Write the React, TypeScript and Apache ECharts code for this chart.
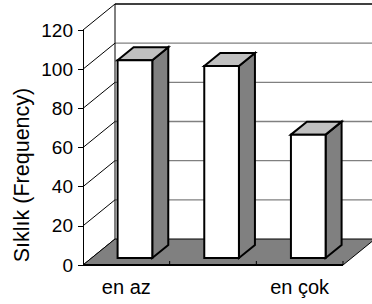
import React, { useEffect, useRef } from "react";
import * as echarts from "echarts";

const CATEGORIES = ["en az", "", "en çok"];
const VALUES = [101, 98, 63];
const Y_MIN = 0;
const Y_MAX = 120;
const Y_STEP = 20;
const Y_TITLE = "Sıklık (Frequency)";

const FONT = "'Liberation Sans', Arial, sans-serif";
const DX = 32; // depth of the floor / walls
const DY = -26;
const BX = 8.6; // bar front offset inside the depth
const BY = -7;
const BDX = 16; // bar depth
const BDY = -13;

export default function App() {
  const ref = useRef<HTMLDivElement>(null);

  useEffect(() => {
    if (!ref.current) return;
    const chart = echarts.init(ref.current, null, { renderer: "svg" });

    const ticks: number[] = [];
    for (let v = Y_MIN; v <= Y_MAX; v += Y_STEP) ticks.push(v);

    const frameRender = (params: any, api: any) => {
      const cs = params.coordSys;
      const x0 = cs.x;
      const x1 = cs.x + cs.width;
      const y0 = api.coord([0, Y_MIN])[1];
      const yTop = api.coord([0, Y_MAX])[1];
      const band = api.size([1, 0])[0];
      const children: any[] = [];
      children.push({
        type: "rect",
        shape: { x: x0 + DX, y: yTop + DY, width: x1 - x0, height: y0 - yTop },
        style: { fill: "#ffffff", stroke: null },
      });
      ticks.forEach((v) => {
        if (v === Y_MIN || v === Y_MAX) return;
        const y = api.coord([0, v])[1];
        children.push({
          type: "line",
          shape: { x1: x0 + DX, y1: y + DY, x2: x1 + DX, y2: y + DY },
          style: { stroke: "#808080", lineWidth: 1.3 },
        });
      });
      children.push({
        type: "line",
        shape: { x1: x0 + DX, y1: yTop + DY, x2: x1 + DX, y2: yTop + DY },
        style: { stroke: "#000000", lineWidth: 1.5 },
      });
      children.push({
        type: "line",
        shape: { x1: x0 + DX, y1: yTop + DY, x2: x0 + DX, y2: y0 + DY },
        style: { stroke: "#000000", lineWidth: 1 },
      });
      ticks.forEach((v) => {
        const y = api.coord([0, v])[1];
        children.push({
          type: "line",
          shape: { x1: x0, y1: y, x2: x0 + DX, y2: y + DY },
          style: { stroke: "#000000", lineWidth: 1 },
        });
      });
      children.push({
        type: "polygon",
        shape: {
          points: [
            [x0, y0],
            [x1, y0],
            [x1 + DX, y0 + DY],
            [x0 + DX, y0 + DY],
          ],
        },
        style: { fill: "#808080", stroke: "#000000", lineWidth: 1 },
      });
      children.push({
        type: "line",
        shape: { x1: x0, y1: y0, x2: x1, y2: y0 },
        style: { stroke: "#000000", lineWidth: 2 },
      });
      for (let i = 1; i <= CATEGORIES.length; i++) {
        const x = api.coord([i - 1, 0])[0] + band / 2;
        children.push({
          type: "line",
          shape: { x1: x, y1: y0, x2: x, y2: y0 - 4 },
          style: { stroke: "#000000", lineWidth: 1 },
        });
      }
      return { type: "group", children };
    };

    const barRender = (params: any, api: any) => {
      const idx = api.value(0);
      const val = api.value(1);
      const top = api.coord([idx, val]);
      const base = api.coord([idx, 0]);
      const bw = api.size([1, 0])[0] * 0.4;
      const fx = top[0] - bw / 2 + BX;
      const fy = top[1] + BY;
      const fb = base[1] + BY;
      const stroke = { stroke: "#000000", lineWidth: 2, lineJoin: "miter" };
      return {
        type: "group",
        children: [
          {
            type: "polygon",
            shape: {
              points: [
                [fx + bw, fy],
                [fx + bw + BDX, fy + BDY],
                [fx + bw + BDX, fb + BDY],
                [fx + bw, fb],
              ],
            },
            style: { fill: "#808080", ...stroke },
          },
          {
            type: "polygon",
            shape: {
              points: [
                [fx, fy],
                [fx + BDX, fy + BDY],
                [fx + bw + BDX, fy + BDY],
                [fx + bw, fy],
              ],
            },
            style: { fill: "#c0c0c0", ...stroke },
          },
          {
            type: "rect",
            shape: { x: fx, y: fy, width: bw, height: fb - fy },
            style: { fill: "#ffffff", ...stroke },
          },
        ],
      };
    };

    chart.setOption({
      animation: false,
      backgroundColor: "#ffffff",
      grid: { left: 83, right: 29, top: 30, bottom: 39, containLabel: false },
      xAxis: {
        type: "category",
        data: CATEGORIES,
        boundaryGap: true,
        axisLine: { show: false },
        axisTick: { show: false },
        axisLabel: {
          color: "#000000",
          fontSize: 20,
          fontFamily: FONT,
          margin: 12,
          interval: 0,
        },
      },
      yAxis: {
        type: "value",
        min: Y_MIN,
        max: Y_MAX,
        interval: Y_STEP,
        splitLine: { show: false },
        axisLine: { show: true, lineStyle: { color: "#000000", width: 1 } },
        axisTick: { show: true, length: 5, lineStyle: { color: "#000000" } },
        axisLabel: {
          color: "#000000",
          fontSize: 19,
          fontFamily: FONT,
          margin: 10,
        },
      },
      graphic: [
        {
          type: "text",
          x: 22,
          y: 175,
          rotation: Math.PI / 2,
          style: {
            text: Y_TITLE,
            fill: "#000000",
            font: `21.5px ${FONT}`,
            align: "center",
            verticalAlign: "middle",
          },
        },
      ],
      series: [
        {
          type: "custom",
          z: 1,
          silent: true,
          data: [[0, 0]],
          renderItem: frameRender,
        },
        {
          type: "custom",
          z: 3,
          data: VALUES.map((v, i) => [i, v]),
          renderItem: barRender,
        },
      ],
    });

    return () => chart.dispose();
  }, []);

  return (
    <div
      ref={ref}
      style={{ position: "fixed", left: 0, top: 0, width: 372, height: 304 }}
    />
  );
}
